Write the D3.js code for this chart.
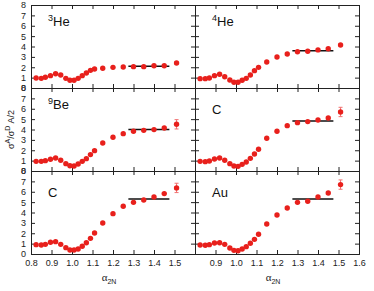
<!DOCTYPE html>
<html>
<head>
<meta charset="utf-8">
<script src="https://cdn.jsdelivr.net/npm/d3@7"></script>
<style>
  body { margin: 0; background: #fff; }
  text { font-family: "Liberation Sans", Arial, sans-serif; }
</style>
</head>
<body>
<script>
// x positions (alpha_2N) shared by all panels
let alpha = [0.825, 0.85, 0.87, 0.895, 0.92, 0.945, 0.97, 0.99, 1.01, 1.03, 1.05,
             1.07, 1.09, 1.11, 1.15, 1.2, 1.25, 1.3, 1.35, 1.4, 1.45, 1.51];

// ratio values per nucleus
let he3 = [0.96, 0.93, 1.03, 1.19, 1.38, 1.25, 0.93, 0.74, 0.74, 0.93, 1.19,
           1.45, 1.70, 1.83, 1.90, 1.99, 2.02, 2.06, 2.06, 2.15, 2.15, 2.41];
let he4 = [0.90, 0.90, 0.96, 1.19, 1.32, 1.09, 0.77, 0.55, 0.55, 0.74, 0.93,
           1.25, 1.67, 1.99, 2.51, 2.99, 3.28, 3.50, 3.54, 3.67, 3.79, 4.15];
let be9 = [0.93, 0.93, 1.00, 1.13, 1.25, 1.03, 0.71, 0.51, 0.48, 0.68, 0.93,
           1.19, 1.58, 1.96, 2.70, 3.25, 3.60, 3.83, 3.92, 3.99, 4.15, 4.50];
let c12a = [0.93, 0.90, 0.96, 1.16, 1.25, 1.03, 0.71, 0.48, 0.45, 0.64, 0.87,
            1.22, 1.64, 2.09, 3.15, 3.83, 4.37, 4.66, 4.76, 4.92, 5.11, 5.69];
let c12b = [0.90, 0.87, 0.93, 1.13, 1.19, 0.93, 0.61, 0.39, 0.39, 0.48, 0.74,
            1.09, 1.51, 2.03, 2.99, 3.89, 4.60, 4.98, 5.21, 5.50, 5.82, 6.37];
let au = [0.87, 0.84, 0.90, 1.06, 1.09, 0.93, 0.58, 0.35, 0.32, 0.48, 0.71,
          1.03, 1.41, 1.90, 2.89, 3.76, 4.44, 4.98, 5.08, 5.50, 5.88, 6.69];

// statistical errors (small except the last points)
let errSmall = [0.03, 0.03, 0.03, 0.03, 0.03, 0.03, 0.03, 0.03, 0.03, 0.03, 0.03,
                0.04, 0.04, 0.05, 0.05, 0.06, 0.07, 0.08, 0.09, 0.1, 0.1, 0.15];
let errLarge = [0.03, 0.03, 0.03, 0.03, 0.03, 0.03, 0.03, 0.03, 0.03, 0.03, 0.03,
                0.04, 0.05, 0.06, 0.07, 0.08, 0.1, 0.12, 0.13, 0.15, 0.2, 0.45];

// plateau fit levels and range
let plateau = [2.1, 3.6, 3.99, 4.82, 5.3, 5.3];
let plateauRange = [1.275, 1.475];

let panelNames = [["3", "He"], ["4", "He"], ["9", "Be"], ["", "C"], ["", "C"], ["", "Au"]];
let panelData = [he3, he4, be9, c12a, c12b, au];
let panelErr = [errSmall, errSmall, errLarge, errLarge, errLarge, errLarge];

let xTicks = [0.8, 0.9, 1.0, 1.1, 1.2, 1.3, 1.4, 1.5, 1.6];
let yTicks = [0, 1, 2, 3, 4, 5, 6, 7, 8];

let left0 = 31, top0 = 5, colW = 164, rowH = 83;

let svg = d3.select("body").append("svg")
    .attr("width", 374)
    .attr("height", 291);

panelData.forEach(function(vals, i) {
    let col = i % 2, row = Math.floor(i / 2);
    let x0 = left0 + col * colW, y0 = top0 + row * rowH;

    let x = d3.scaleLinear().domain([0.8, 1.6]).range([x0, x0 + colW]);
    let y = d3.scaleLinear().domain([0, 8]).range([y0 + rowH, y0]);

    let g = svg.append("g");

    // axes with inward ticks on all four sides
    let bottom = g.append("g").attr("transform", "translate(0," + (y0 + rowH) + ")")
        .call(d3.axisBottom(x).tickValues(xTicks).tickSize(-4).tickPadding(6)
              .tickFormat(d3.format(".1f")));
    let topAx = g.append("g").attr("transform", "translate(0," + y0 + ")")
        .call(d3.axisTop(x).tickValues(xTicks).tickSize(-4).tickFormat(""));
    let leftAx = g.append("g").attr("transform", "translate(" + x0 + ",0)")
        .call(d3.axisLeft(y).tickValues(yTicks).tickSize(-4).tickPadding(5));
    let rightAx = g.append("g").attr("transform", "translate(" + (x0 + colW) + ",0)")
        .call(d3.axisRight(y).tickValues(yTicks).tickSize(-4).tickFormat(""));

    [bottom, topAx, leftAx, rightAx].forEach(function(a) {
        a.selectAll("path").attr("stroke", "#222");
        a.selectAll("line").attr("stroke", "#222");
        a.selectAll("text").attr("fill", "#222").style("font-size", "9px")
            .style("font-family", "'Liberation Sans', Arial, sans-serif");
    });

    if (row < 2) bottom.selectAll("text").remove();
    else if (col === 0) bottom.selectAll("text").filter(d => d > 1.55).remove();
    else bottom.selectAll("text").filter(d => d < 0.85).remove();
    if (col === 1) leftAx.selectAll("text").remove();

    // plateau line
    g.append("line")
        .attr("x1", x(plateauRange[0])).attr("x2", x(plateauRange[1]))
        .attr("y1", y(plateau[i])).attr("y2", y(plateau[i]))
        .attr("stroke", "#111").attr("stroke-width", 1.5);

    // error bars
    let err = panelErr[i];
    g.selectAll(".err").data(vals).enter().append("line")
        .attr("x1", (d, j) => x(alpha[j])).attr("x2", (d, j) => x(alpha[j]))
        .attr("y1", (d, j) => y(d - err[j])).attr("y2", (d, j) => y(d + err[j]))
        .attr("stroke", "#f07070").attr("stroke-width", 1);
    g.selectAll(".cap").data(vals).enter().append("path")
        .attr("d", (d, j) => err[j] > 0.2 ?
            "M" + (x(alpha[j]) - 2) + "," + y(d - err[j]) + "h4M" + (x(alpha[j]) - 2) + "," + y(d + err[j]) + "h4" : "")
        .attr("stroke", "#f07070").attr("stroke-width", 1);

    // points
    g.selectAll("circle").data(vals).enter().append("circle")
        .attr("cx", (d, j) => x(alpha[j]))
        .attr("cy", d => y(d))
        .attr("r", 2.7)
        .attr("fill", "#e8201c");

    // nucleus label
    let lab = g.append("text").attr("x", x0 + 17).attr("y", y0 + 21)
        .style("font-size", "13px").attr("fill", "#111");
    lab.append("tspan").attr("dy", -5).style("font-size", "9px").text(panelNames[i][0]);
    lab.append("tspan").attr("dy", 5).text(panelNames[i][1]);
});

// y-axis title
let yt = svg.append("text")
    .attr("transform", "translate(14," + (top0 + rowH * 1.5) + ") rotate(-90)")
    .attr("text-anchor", "middle")
    .style("font-size", "9px").attr("fill", "#222");
yt.append("tspan").text("σ");
yt.append("tspan").attr("dy", -4).style("font-size", "7px").text("A");
yt.append("tspan").attr("dy", 4).text("/σ");
yt.append("tspan").attr("dy", -4).style("font-size", "7px").text("D");
yt.append("tspan").attr("dy", 4).text(" A/2");

// x-axis titles
[0, 1].forEach(function(col) {
    let xt = svg.append("text")
        .attr("x", left0 + col * colW + colW / 2 - 4)
        .attr("y", 281)
        .attr("text-anchor", "middle")
        .attr("fill", "#222");
    xt.append("tspan").style("font-size", "11px")
        .style("font-family", "'Liberation Serif', serif").text("α");
    xt.append("tspan").attr("dy", 3).style("font-size", "7px").text("2N");
});
</script>
</body>
</html>
